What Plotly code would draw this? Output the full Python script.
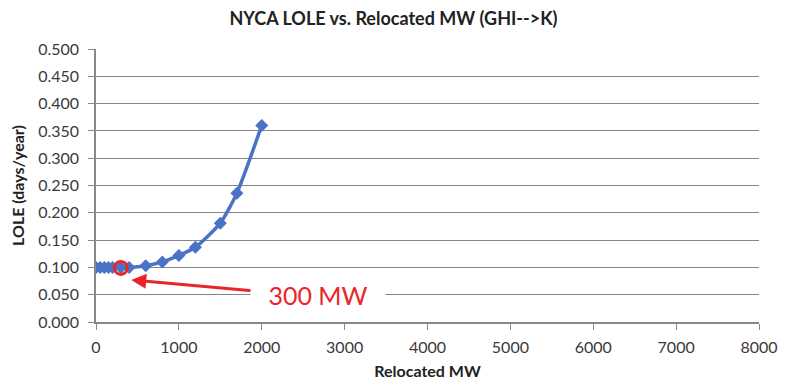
import plotly.graph_objects as go

relocated_mw = [0, 50, 100, 150, 200, 300, 400, 600, 800, 1000, 1200, 1500, 1700, 2000]
lole = [0.100, 0.100, 0.100, 0.100, 0.100, 0.100, 0.100, 0.103, 0.110, 0.122, 0.137, 0.181, 0.236, 0.360]
highlight_mw = [300]
highlight_lole = [0.099]
x_ticks = [0, 1000, 2000, 3000, 4000, 5000, 6000, 7000, 8000]
y_ticks = [0.0, 0.05, 0.1, 0.15, 0.2, 0.25, 0.3, 0.35, 0.4, 0.45, 0.5]

blue = "#4a73c6"
red = "#e8262a"
font = "Lato, 'Open Sans', sans-serif"

W, H = 772, 372

fig = go.Figure()
fig.add_trace(go.Scatter(
    x=relocated_mw, y=lole, mode="lines+markers",
    line=dict(color=blue, width=3.5, shape="spline", smoothing=0.6),
    marker=dict(symbol="diamond", size=10, color=blue),
    showlegend=False, hoverinfo="x+y"))
fig.add_trace(go.Scatter(
    x=highlight_mw, y=highlight_lole, mode="markers",
    marker=dict(symbol="circle-open", size=13, color=red, line=dict(width=3, color=red)),
    showlegend=False))

fig.add_annotation(x=425, y=0.077, ax=1900, ay=0.057, xref="x", yref="y",
                   axref="x", ayref="y", text="", showarrow=True,
                   arrowhead=2, arrowsize=1, arrowwidth=3, arrowcolor=red)
fig.add_annotation(x=2680, y=0.0495, xref="x", yref="y", text="300 MW",
                   showarrow=False, font=dict(family=font, size=25, color=red),
                   bgcolor="white", borderpad=2, width=130, align="center")

fig.update_layout(
    width=W, height=H,
    margin=dict(l=88, r=21, t=41, b=58),
    paper_bgcolor="white", plot_bgcolor="white",
    title=dict(text="<b>NYCA LOLE vs. Relocated MW (GHI-->K)</b>", x=385.5 / W, xanchor="center",
               y=1 - 11 / H, yanchor="middle", font=dict(family=font, size=18, color="#222")),
    font=dict(family=font, size=16, color="#3a3a3a"),
)
fig.update_xaxes(
    range=[0, 8000], tickvals=x_ticks, tickformat="d", automargin=False,
    showgrid=False, zeroline=False, showline=True, linecolor="#888", linewidth=1.5,
    ticks="outside", ticklen=6, tickcolor="#888", ticklabelstandoff=4,
    title=dict(text="<b>Relocated MW</b>", font=dict(family=font, size=16, color="#222"), standoff=12),
)
fig.update_yaxes(
    range=[0, 0.5], tickvals=y_ticks, tickformat=".3f", automargin=False,
    showgrid=True, gridcolor="#858585", gridwidth=1, zeroline=False,
    showline=True, linecolor="#888", linewidth=1.5, ticks="outside", ticklen=6, tickcolor="#888",
    ticklabelstandoff=6,
    title=dict(text="<b>LOLE (days/year)</b>", font=dict(family=font, size=16, color="#222"), standoff=10),
)

fig.write_html("out.html")
